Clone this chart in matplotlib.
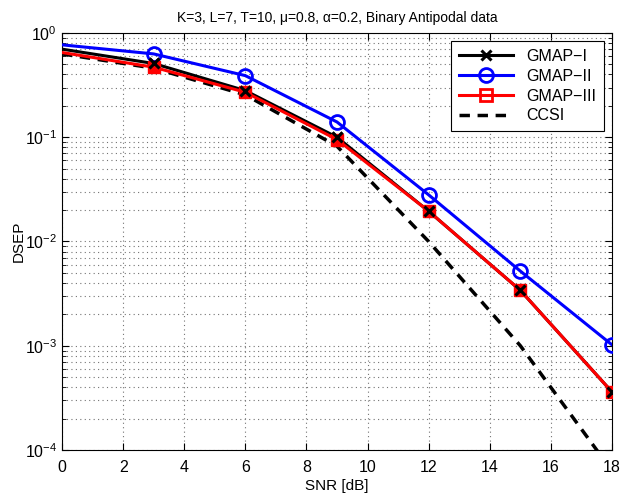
import numpy as np
import matplotlib
matplotlib.use('Agg')
import matplotlib.pyplot as plt
from matplotlib.ticker import LogLocator, NullFormatter, FixedLocator

plt.rcParams['font.family'] = ['Liberation Sans', 'DejaVu Sans']
plt.rcParams['mathtext.fontset'] = 'custom'
plt.rcParams['mathtext.rm'] = 'Liberation Sans'
plt.rcParams['mathtext.it'] = 'Liberation Sans:italic'

#___________Datos__________________________________#
snr      = [0, 3, 6, 9, 12, 15, 18]
gmap_i   = [0.70, 0.51, 0.28, 0.100, 0.0195, 0.0034, 0.00036]
gmap_ii  = [0.77, 0.63, 0.39, 0.140, 0.0280, 0.0052, 0.00102]
gmap_iii = [0.65, 0.47, 0.27, 0.095, 0.0195, 0.0034, 0.00036]
ccsi     = [0.63, 0.46, 0.255, 0.082, 0.0100, 0.0010, 0.000063]

mk = list(range(1, len(snr)))   # sin marcador en SNR = 0

fig = plt.figure(figsize=(6.29, 4.97), dpi=100)
ax = fig.add_axes([0.0986, 0.0946, 0.8744, 0.839])

# lineas (solo para la leyenda llevan marcador hueco)
ax.semilogy(snr, gmap_i, 'k-x', linewidth=2.2, markersize=7, markeredgewidth=2.2,
            markevery=mk, label='GMAP\u2212I', zorder=3)
ax.semilogy(snr, gmap_ii, 'b-o', linewidth=2.2, markersize=10, markeredgewidth=2.0,
            markerfacecolor='none', markevery=mk, label='GMAP\u2212II', zorder=4)
ax.semilogy(snr, gmap_iii, 'r-s', linewidth=2.2, markersize=8, markeredgewidth=2.0,
            markerfacecolor='none', markevery=[], label='GMAP\u2212III', zorder=4)
ax.semilogy(snr, ccsi, 'k--', linewidth=2.5, dashes=(3, 2.2), label='CCSI', zorder=2)

# marcadores rellenos de GMAP-III y las cruces de GMAP-I encima
ax.semilogy(snr[1:], gmap_iii[1:], 'rs', markersize=9, markeredgewidth=1.0, zorder=5)
ax.semilogy(snr[1:], gmap_i[1:], 'kx', markersize=7, markeredgewidth=2.2, zorder=6)

ax.set_xlim(0, 18)
ax.set_ylim(1e-4, 1)
ax.xaxis.set_major_locator(FixedLocator(np.arange(0, 19, 2)))
ax.yaxis.set_major_locator(LogLocator(base=10, numticks=10))
ax.yaxis.set_minor_locator(LogLocator(base=10, subs=np.arange(2, 10), numticks=10))
ax.yaxis.set_minor_formatter(NullFormatter())

ax.grid(True, which='major', linestyle=(0, (1, 3)), color='0.45', linewidth=0.8)
ax.grid(True, which='minor', axis='y', linestyle=(0, (1, 3)), color='0.45', linewidth=0.8)
ax.tick_params(which='both', direction='in', top=True, right=True, labelsize=11.5)
ax.tick_params(axis='x', pad=7)
ax.tick_params(which='major', length=5)
ax.tick_params(which='minor', length=3)
for s in ax.spines.values():
    s.set_linewidth(0.8)

ax.set_xlabel('SNR [dB]', fontsize=11, labelpad=3)
ax.set_ylabel('DSEP', fontsize=11, labelpad=-1)
ax.set_title('K=3, L=7, T=10, \u03bc=0.8, \u03b1=0.2, Binary Antipodal data', fontsize=10, pad=8)

leg = ax.legend(loc='upper right', fontsize=11.5, fancybox=False, framealpha=1,
                edgecolor='k', handlelength=3.4, borderaxespad=0.5, labelspacing=0.3,
                borderpad=0.5)
leg.get_frame().set_linewidth(0.8)

fig.savefig('out.png', dpi=100)
